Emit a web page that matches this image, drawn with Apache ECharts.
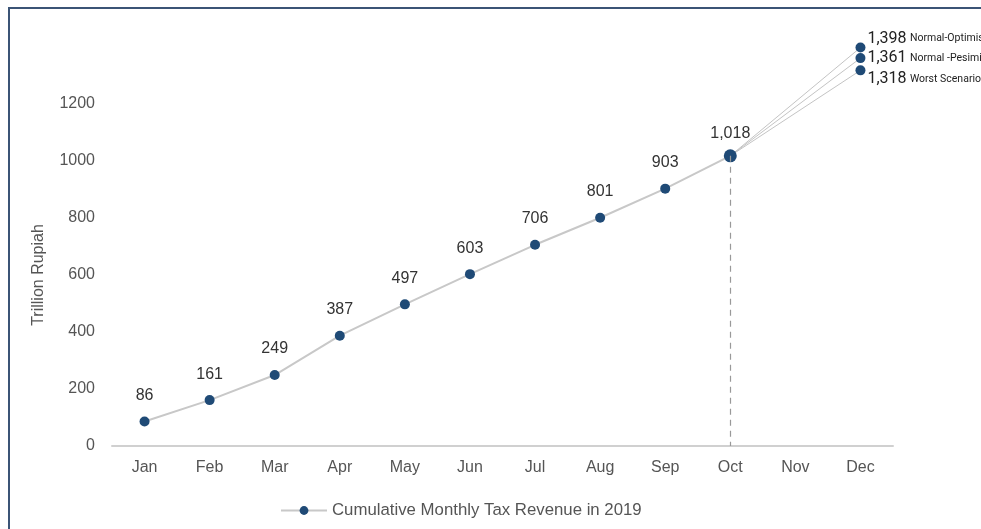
<!DOCTYPE html>
<html>
<head>
<meta charset="utf-8">
<title>Cumulative Monthly Tax Revenue in 2019</title>
<script src="https://cdn.jsdelivr.net/npm/echarts@6/dist/echarts.min.js"></script>
<style>
  html, body { margin: 0; padding: 0; background: #ffffff; }
  #chart { width: 981px; height: 529px; }
</style>
</head>
<body>
<div id="chart"></div>
<script>
// Month categories and y-axis ticks
const months = ['Jan', 'Feb', 'Mar', 'Apr', 'May', 'Jun', 'Jul', 'Aug', 'Sep', 'Oct', 'Nov', 'Dec'];
const yTicks = [0, 200, 400, 600, 800, 1000, 1200];

// Realised cumulative revenue (Jan..Oct), trillion rupiah
const cumulative = [86, 161, 249, 387, 497, 603, 706, 801, 903, 1018];

// Year-end scenarios projected from October
const scenarioNames = ['Normal-Optimist', 'Normal -Pesimis', 'Worst Scenario'];
const scenarioValues = [1398, 1361, 1318];
const scenarioLabelShift = [-9, 0, 9];

const navy = '#1f4a76';
const font = '"Liberation Sans", Arial, sans-serif';
const fmt = v => v.toLocaleString('en-US');

const chart = echarts.init(document.getElementById('chart'), null, { renderer: 'canvas' });

const scenarioSeries = scenarioValues.map((v, i) => ({
  name: scenarioNames[i],
  type: 'line',
  clip: false,
  silent: true,
  z: 1,
  data: [
    { value: ['Oct', cumulative[cumulative.length - 1]], symbol: 'none', label: { show: false } },
    { value: ['Dec', v] }
  ],
  lineStyle: { color: '#c4c4c4', width: 1 },
  itemStyle: { color: navy },
  symbol: 'circle',
  symbolSize: 10,
  label: {
    show: true,
    position: 'right',
    distance: 1,
    offset: [1, scenarioLabelShift[i]],
    formatter: () => '{v|' + fmt(v) + '} {n|' + scenarioNames[i] + '}',
    rich: {
      v: { fontFamily: 'Roboto', fontSize: 16, color: '#222222' },
      n: { fontFamily: 'Roboto', fontSize: 10.5, color: '#222222' }
    }
  }
}));

chart.setOption({
  animation: false,
  backgroundColor: '#ffffff',
  textStyle: { fontFamily: font },
  graphic: [
    {
      type: 'polyline',
      shape: { points: [[9, 529], [9, 8], [981, 8]] },
      style: { stroke: '#3b5476', lineWidth: 2, fill: null },
      silent: true
    }
  ],
  grid: { left: 112, right: 88, top: 104, bottom: 83 },
  legend: {
    data: [{ name: 'Cumulative Monthly Tax Revenue in 2019' }],
    bottom: 10,
    left: 280,
    padding: 0,
    itemWidth: 46,
    itemHeight: 11,
    itemGap: 8,
    textStyle: { fontFamily: font, fontSize: 16.8, color: '#555555' }
  },
  xAxis: {
    type: 'category',
    data: months,
    boundaryGap: true,
    axisLine: { show: true, lineStyle: { color: '#d0d0d0', width: 2 } },
    axisTick: { show: false },
    axisLabel: { color: '#555555', fontSize: 16, margin: 14, fontFamily: font },
    splitLine: { show: false }
  },
  yAxis: {
    type: 'value',
    min: yTicks[0],
    max: yTicks[yTicks.length - 1],
    interval: 200,
    name: 'Trillion Rupiah',
    nameLocation: 'middle',
    nameGap: 65,
    nameRotate: 90,
    nameTextStyle: { color: '#555555', fontSize: 16, fontFamily: font },
    axisLine: { show: false },
    axisTick: { show: false },
    splitLine: { show: false },
    axisLabel: {
      color: '#555555',
      fontSize: 16,
      margin: 17,
      fontFamily: font,
      formatter: v => String(v)
    }
  },
  series: [
    {
      name: 'Cumulative Monthly Tax Revenue in 2019',
      type: 'line',
      clip: false,
      z: 3,
      data: cumulative.map((v, i) => (i === cumulative.length - 1
        ? { value: v, symbolSize: 13, label: { distance: 8 } }
        : v)),
      symbol: 'circle',
      symbolSize: 10,
      lineStyle: { color: '#c8c8c8', width: 2 },
      itemStyle: { color: navy },
      label: {
        show: true,
        position: 'top',
        distance: 13,
        formatter: p => fmt(p.value),
        fontFamily: font,
        fontSize: 16,
        color: '#333333'
      },
      markLine: {
        silent: true,
        symbol: 'none',
        label: { show: false },
        lineStyle: { color: '#999999', type: [6, 5], width: 1.2 },
        data: [[
          { coord: ['Oct', cumulative[cumulative.length - 1]] },
          { coord: ['Oct', 0] }
        ]]
      }
    },
    ...scenarioSeries
  ]
});
</script>
</body>
</html>
